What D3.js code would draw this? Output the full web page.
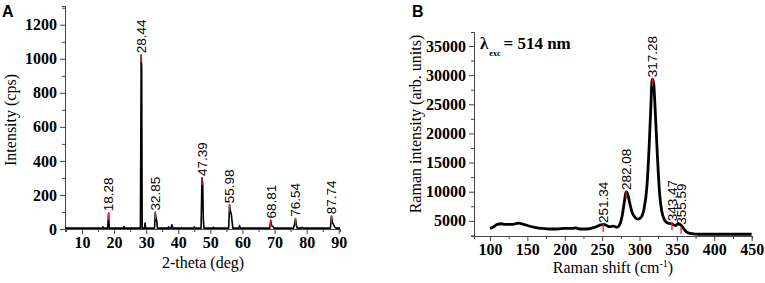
<!DOCTYPE html>
<html>
<head>
<meta charset="utf-8">
<script src="https://cdn.jsdelivr.net/npm/d3@7"></script>
<style>
  body { margin: 0; background: #fff; }
  svg { display: block; }
  .tick text { font-family: "Liberation Serif", serif; font-weight: bold; font-size: 16px; fill: #000; }
  .domain, .tick line { stroke: #444; }
</style>
</head>
<body>
<script>
// ---- panel A: XRD pattern (2-theta, counts) ----
const xrdTheta = [4.7, 16.3, 16.5, 16.7, 18.0, 18.28, 18.5, 23.0, 23.1, 23.3, 28.2, 28.44, 28.6, 28.75,
  29.5, 29.65, 29.85, 32.6, 32.85, 33.1, 33.3, 33.5, 36.8, 37.0, 37.2, 37.8, 38.0, 38.3, 40.8, 41.0, 41.2,
  44.8, 45.0, 45.3, 47.1, 47.39, 47.6, 47.8, 48.0, 50.8, 51.0, 51.2, 55.7, 55.98, 56.2, 56.5, 56.8, 57.0,
  58.9, 59.1, 59.3, 68.5, 68.81, 69.1, 69.5, 69.8, 75.9, 76.2, 76.54, 76.8, 77.1, 78.3, 78.6, 79.0,
  87.4, 87.74, 88.0, 88.4, 88.8, 89.2, 90.4];
const xrdCounts = [5, 5, 12, 5, 5, 92, 5, 5, 15, 5, 5, 1020, 940, 5,
  5, 35, 5, 5, 97, 60, 45, 5, 5, 12, 5, 5, 25, 5, 5, 8, 5,
  5, 12, 5, 5, 300, 270, 60, 5, 5, 10, 5, 5, 140, 110, 90, 40, 5,
  5, 20, 5, 5, 50, 20, 15, 5, 5, 25, 60, 20, 5, 5, 10, 5,
  5, 75, 40, 25, 10, 5, 5];
const xrdPeakPos = [18.28, 28.44, 32.85, 47.39, 55.98, 68.81, 76.54, 87.74];
const xrdPeakVal = [92, 1020, 97, 300, 140, 50, 60, 75];
const xrdYTicks = [0, 200, 400, 600, 800, 1000, 1200];
const xrdXTicks = [10, 20, 30, 40, 50, 60, 70, 80, 90];

// ---- panel B: Raman spectrum ----
const ramanShift = [100, 105, 110, 115, 120, 130, 138, 145, 150, 160, 170, 180, 190, 200, 210, 215, 220,
  230, 240, 248, 252, 256, 260, 265, 270, 274, 277, 280, 282, 284, 287, 290, 294, 298, 302, 306, 310,
  313, 315, 317, 319, 321, 324, 327, 330, 334, 338, 343, 348, 352, 356, 360, 364, 370, 380, 400, 420, 450];
const ramanInt = [3700, 4000, 4400, 4500, 4400, 4400, 4600, 4400, 4200, 3900, 3700, 3600, 3600, 3700, 3700, 3800, 3600,
  3600, 3900, 4300, 4400, 4200, 4000, 4100, 3900, 4500, 6000, 8500, 10000, 9700, 8000, 6500, 5600, 5300, 5600, 7000, 11000,
  18000, 24000, 29300, 28500, 24000, 16000, 9500, 6500, 5000, 4600, 4500, 4200, 4500, 4200, 3500, 3000, 2800, 2700, 2700, 2700, 2700];
const ramanPeakPos = [251.34, 282.08, 317.28, 343.47, 355.59];
const ramanPeakVal = [4300, 9950, 29300, 4600, 4000];
const ramanYTicks = [5000, 10000, 15000, 20000, 25000, 30000, 35000];
const ramanXTicks = [100, 150, 200, 250, 300, 350, 400, 450];

const svg = d3.select("body").append("svg")
  .attr("width", 765)
  .attr("height", 283);

const serif = '"Liberation Serif", serif';
const sans = '"Liberation Sans", Arial, sans-serif';

function panel(opt) {
  const g = svg.append("g");
  const x = d3.scaleLinear().domain(opt.xDomain).range(opt.xRange);
  const y = d3.scaleLinear().domain(opt.yDomain).range(opt.yRange);

  // minor ticks first, then major ticks with labels
  g.append("g")
    .attr("transform", `translate(0,${opt.yRange[0]})`)
    .call(d3.axisBottom(x).tickValues(opt.xMinor).tickSize(3).tickFormat(""));
  g.append("g")
    .attr("transform", `translate(0,${opt.yRange[0]})`)
    .call(d3.axisBottom(x).tickValues(opt.xTicks).tickSize(5).tickPadding(3)
      .tickSizeOuter(0).tickFormat(d3.format("d")));
  g.append("g")
    .attr("transform", `translate(${opt.xRange[0]},0)`)
    .call(d3.axisLeft(y).tickValues(opt.yMinor).tickSize(3).tickFormat(""));
  g.append("g")
    .attr("transform", `translate(${opt.xRange[0]},0)`)
    .call(d3.axisLeft(y).tickValues(opt.yTicks).tickSize(5).tickPadding(3)
      .tickSizeOuter(0).tickFormat(d3.format("d")));

  // data line
  g.append("path")
    .datum(d3.zip(opt.xs, opt.ys))
    .attr("fill", "none")
    .attr("stroke", "#000")
    .attr("stroke-width", opt.lineWidth)
    .attr("stroke-linejoin", "round")
    .attr("d", d3.line().x(d => x(d[0])).y(d => y(d[1])).curve(opt.curve));

  // red peak markers
  g.selectAll(".mark")
    .data(d3.zip(opt.peakPos, opt.peakVal))
    .join("line")
      .attr("x1", d => x(d[0])).attr("x2", d => x(d[0]))
      .attr("y1", d => y(d[1]) - 1)
      .attr("y2", d => Math.min(y(d[1]) + 7, opt.yRange[0] - 1))
      .attr("stroke", "#e8202a")
      .attr("stroke-width", 1.3);

  // rotated peak labels
  g.selectAll(".peak")
    .data(d3.zip(opt.peakPos, opt.peakVal))
    .join("text")
      .attr("transform", d => `translate(${x(d[0])},${y(d[1]) - 2}) rotate(-90)`)
      .attr("dy", "0.36em")
      .attr("font-family", sans)
      .attr("font-size", 13.5)
      .text(d => d[0].toFixed(2));

  return {g, x, y};
}

// Panel A
const A = panel({
  xDomain: [4.7, 90.4], xRange: [65, 340],
  yDomain: [0, 1310], yRange: [229, 6],
  xTicks: xrdXTicks, xMinor: [5, 15, 25, 35, 45, 55, 65, 75, 85],
  yTicks: xrdYTicks, yMinor: [100, 300, 500, 700, 900, 1100, 1300],
  xs: xrdTheta, ys: xrdCounts, lineWidth: 1.6, curve: d3.curveLinear,
  peakPos: xrdPeakPos, peakVal: xrdPeakVal
});
A.g.append("text")
  .attr("x", 203).attr("y", 268)
  .attr("text-anchor", "middle")
  .attr("font-family", serif).attr("font-size", 16)
  .text("2-theta (deg)");
A.g.append("text")
  .attr("transform", "translate(16,120) rotate(-90)")
  .attr("text-anchor", "middle")
  .attr("font-family", serif).attr("font-size", 16)
  .text("Intensity (cps)");
svg.append("text")
  .attr("x", 2).attr("y", 17)
  .attr("font-family", sans).attr("font-weight", "bold").attr("font-size", 16)
  .text("A");

// Panel B
const B = panel({
  xDomain: [78.6, 450.5], xRange: [474, 752],
  yDomain: [2400, 37400], yRange: [236, 32],
  xTicks: ramanXTicks, xMinor: [125, 175, 225, 275, 325, 375, 425],
  yTicks: ramanYTicks, yMinor: [2500, 7500, 12500, 17500, 22500, 27500, 32500],
  xs: ramanShift, ys: ramanInt, lineWidth: 2.8, curve: d3.curveMonotoneX,
  peakPos: ramanPeakPos, peakVal: ramanPeakVal
});
const xt = B.g.append("text")
  .attr("x", 613).attr("y", 273)
  .attr("text-anchor", "middle")
  .attr("font-family", serif).attr("font-size", 16);
xt.append("tspan").text("Raman shift (cm");
xt.append("tspan").attr("dy", -6).attr("font-size", 10).text("-1");
xt.append("tspan").attr("dy", 6).text(")");
B.g.append("text")
  .attr("transform", "translate(421,124) rotate(-90)")
  .attr("text-anchor", "middle")
  .attr("font-family", serif).attr("font-size", 16)
  .text("Raman intensity (arb. units)");
const lam = B.g.append("text")
  .attr("x", 480).attr("y", 49)
  .attr("font-family", serif).attr("font-weight", "bold").attr("font-size", 17);
lam.append("tspan").text("λ");
lam.append("tspan").attr("dy", 7).attr("dx", 1).attr("font-size", 8).text("exc");
lam.append("tspan").attr("dy", -7).attr("dx", 3).text("= 514 nm");
svg.append("text")
  .attr("x", 412).attr("y", 17)
  .attr("font-family", sans).attr("font-weight", "bold").attr("font-size", 16)
  .text("B");
</script>
</body>
</html>
